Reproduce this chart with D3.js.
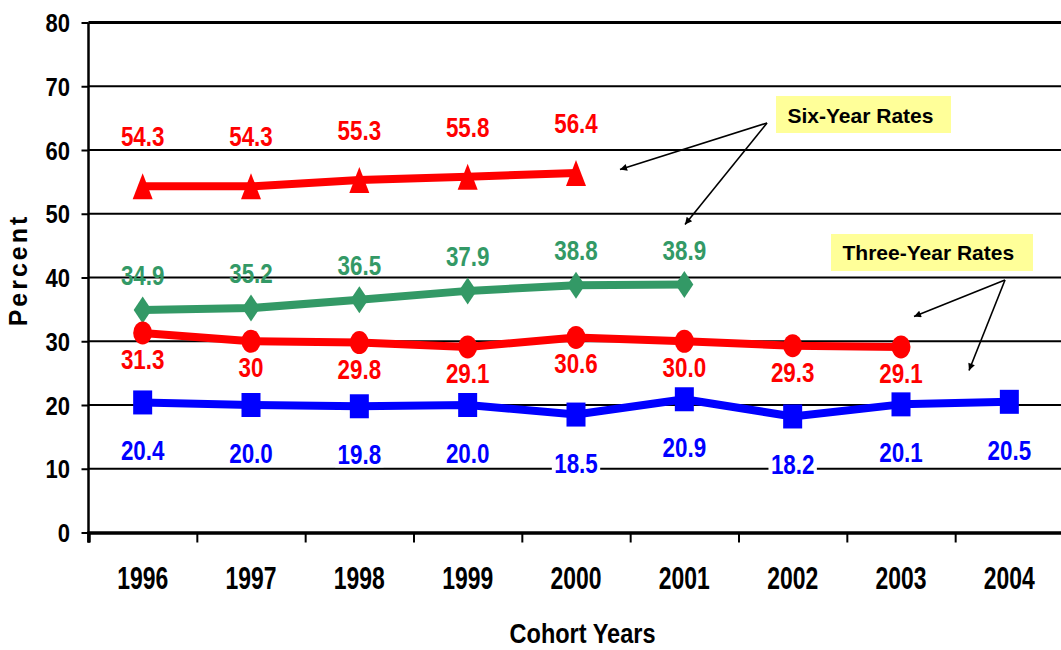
<!DOCTYPE html>
<html>
<head>
<meta charset="utf-8">
<script src="https://cdn.jsdelivr.net/npm/d3@7"></script>
<style>
  html, body { margin: 0; padding: 0; background: #fff; }
  svg { display: block; }
  text { font-family: "Liberation Sans", Arial, sans-serif; font-weight: bold; }
</style>
</head>
<body>
<svg id="chart" width="1061" height="650"></svg>
<script>
// Cohort years on the x axis
const years = ["1996", "1997", "1998", "1999", "2000", "2001", "2002", "2003", "2004"];
// Y axis ticks
const yTicks = [0, 10, 20, 30, 40, 50, 60, 70, 80];

// Six-year rates (two groups)
const sixYearRed = [54.3, 54.3, 55.3, 55.8, 56.4];
const sixYearRedLabels = ["54.3", "54.3", "55.3", "55.8", "56.4"];
const sixYearGreen = [34.9, 35.2, 36.5, 37.9, 38.8, 38.9];
const sixYearGreenLabels = ["34.9", "35.2", "36.5", "37.9", "38.8", "38.9"];

// Three-year rates (two groups)
const threeYearRed = [31.3, 30, 29.8, 29.1, 30.6, 30.0, 29.3, 29.1];
const threeYearRedLabels = ["31.3", "30", "29.8", "29.1", "30.6", "30.0", "29.3", "29.1"];
const threeYearBlue = [20.4, 20.0, 19.8, 20.0, 18.5, 20.9, 18.2, 20.1, 20.5];
const threeYearBlueLabels = ["20.4", "20.0", "19.8", "20.0", "18.5", "20.9", "18.2", "20.1", "20.5"];

const svg = d3.select("#chart");
const plotLeft = 88.5, plotRight = 1063.5, plotTop = 22.5, plotBottom = 532.5;

const x = d3.scaleBand().domain(years).range([plotLeft, plotRight]).padding(0);
const xEdges = d3.scaleLinear().domain([0, years.length]).range([plotLeft, plotRight]);
const y = d3.scaleLinear().domain([0, 80]).range([plotBottom, plotTop]);
const cx = d => x(d) + x.bandwidth() / 2;

// text with horizontal condensing; optional backing box behind the glyphs
function label(parent, px, py, str, opt) {
  const g = parent.append("g")
    .attr("transform", `translate(${px},${py}) scale(${opt.sx || 1},1)`);
  const t = g.append("text")
    .attr("text-anchor", opt.anchor || "middle")
    .attr("font-size", opt.size)
    .attr("fill", opt.fill || "#000")
    .text(str);
  if (opt.bg) {
    const b = t.node().getBBox();
    const cap = opt.size * 0.72;
    g.insert("rect", "text")
      .attr("x", b.x - 3).attr("y", -cap - 2)
      .attr("width", b.width + 6).attr("height", cap + 5)
      .attr("fill", opt.bg);
  }
  return g;
}

// horizontal gridlines
svg.append("g").selectAll("line")
  .data(yTicks.filter(v => v > 0))
  .join("line")
  .attr("x1", plotLeft).attr("x2", plotRight)
  .attr("y1", d => y(d)).attr("y2", d => y(d))
  .attr("stroke", "#000")
  .attr("stroke-width", d => d === 80 ? 3 : 2);

// y axis
const yAxis = svg.append("g")
  .attr("transform", `translate(${plotLeft},0)`)
  .call(d3.axisLeft(y).tickValues(yTicks).tickSize(7).tickFormat(d3.format("d")));
yAxis.select(".domain").attr("d", `M0,${plotTop}V${plotBottom + 10}`).attr("stroke-width", 2.5);
yAxis.selectAll(".tick line").attr("stroke-width", 2);
yAxis.selectAll(".tick text")
  .attr("font-size", 25)
  .attr("fill", "#000")
  .attr("x", -18.5 / 0.88)
  .attr("dy", "0.36em")
  .attr("transform", "scale(0.88,1)");

// x axis: boundary ticks
const xTickAxis = svg.append("g")
  .attr("transform", `translate(0,${plotBottom})`)
  .call(d3.axisBottom(xEdges).tickValues(d3.range(0, years.length + 1)).tickSize(10).tickFormat(""));
xTickAxis.select(".domain").attr("stroke-width", 3.5);
xTickAxis.selectAll(".tick line").attr("stroke-width", 2);

// x axis: year labels at band centres
const xLabelAxis = svg.append("g")
  .attr("transform", `translate(0,${plotBottom})`)
  .call(d3.axisBottom(x).tickSize(0));
xLabelAxis.select(".domain").remove();
xLabelAxis.selectAll(".tick text")
  .attr("font-size", 31)
  .attr("fill", "#000")
  .attr("y", 0).attr("dy", 0)
  .attr("transform", "translate(0,56.5) scale(0.74,1)");

// axis titles
label(svg, 582.5, 643, "Cohort Years", { size: 28, sx: 0.84 });
svg.append("text")
  .attr("transform", "translate(27,270) rotate(-90)")
  .attr("text-anchor", "middle")
  .attr("font-size", 25)
  .attr("letter-spacing", 3)
  .attr("fill", "#000")
  .text("Percent");

// marker shapes
const shapes = {
  triangle: (g, c) => g.append("path").attr("d", "M0,-13L10,13L-10,13Z").attr("fill", c),
  diamond: (g, c) => g.append("path").attr("d", "M0,-13.5L9,0L0,13.5L-9,0Z").attr("fill", c),
  circle: (g, c) => g.append("ellipse").attr("rx", 9.5).attr("ry", 11.5).attr("fill", c),
  square: (g, c) => g.append("rect").attr("x", -9.5).attr("y", -12).attr("width", 19).attr("height", 24).attr("fill", c)
};

const series = [
  { values: sixYearRed, labels: sixYearRedLabels, color: "#FF0000", shape: "triangle", dy: -40 },
  { values: sixYearGreen, labels: sixYearGreenLabels, color: "#339966", shape: "diamond", dy: -25 },
  { values: threeYearRed, labels: threeYearRedLabels, color: "#FF0000", shape: "circle", dy: 36 },
  { values: threeYearBlue, labels: threeYearBlueLabels, color: "#0000FF", shape: "square", dy: 58, bg: "#fff" }
];

const line = d3.line().x(d => cx(d.year)).y(d => y(d.value));

series.forEach(s => {
  const pts = s.values.map((v, i) => ({ year: years[i], value: v, label: s.labels[i] }));
  svg.append("path")
    .datum(pts)
    .attr("d", line)
    .attr("fill", "none")
    .attr("stroke", s.color)
    .attr("stroke-width", 8)
    .attr("stroke-linejoin", "round");
  pts.forEach(p => {
    const g = svg.append("g").attr("transform", `translate(${cx(p.year)},${y(p.value)})`);
    shapes[s.shape](g, s.color);
  });
  s.pts = pts;
});

// value labels
series.forEach(s => {
  s.pts.forEach(p => {
    label(svg, cx(p.year), y(p.value) + s.dy, p.label,
      { size: 28, sx: 0.8, fill: s.color, bg: s.bg });
  });
});

// annotation callouts
const defs = svg.append("defs");
defs.append("marker")
  .attr("id", "arrow")
  .attr("viewBox", "0 0 10 10")
  .attr("refX", 10).attr("refY", 5)
  .attr("markerWidth", 10).attr("markerHeight", 7)
  .attr("markerUnits", "userSpaceOnUse")
  .attr("orient", "auto")
  .append("path").attr("d", "M0,0L10,5L0,10Z").attr("fill", "#000");

function callout(box, text, tx, ty, origin, targets) {
  svg.append("rect")
    .attr("x", box[0]).attr("y", box[1])
    .attr("width", box[2]).attr("height", box[3])
    .attr("fill", "#FFFF99");
  svg.append("text")
    .attr("x", tx).attr("y", ty)
    .attr("font-size", 21)
    .attr("fill", "#000")
    .text(text);
  targets.forEach(t => {
    svg.append("line")
      .attr("x1", origin[0]).attr("y1", origin[1])
      .attr("x2", t[0]).attr("y2", t[1])
      .attr("stroke", "#000").attr("stroke-width", 1.6)
      .attr("marker-end", "url(#arrow)");
  });
}

callout([776, 96, 175, 37], "Six-Year Rates", 787.5, 122.5,
  [767, 123], [[620, 169.5], [685, 224.5]]);
callout([831, 234, 202, 37], "Three-Year Rates", 842.5, 259.5,
  [1005, 280], [[914, 316.5], [969, 370.5]]);
</script>
</body>
</html>
